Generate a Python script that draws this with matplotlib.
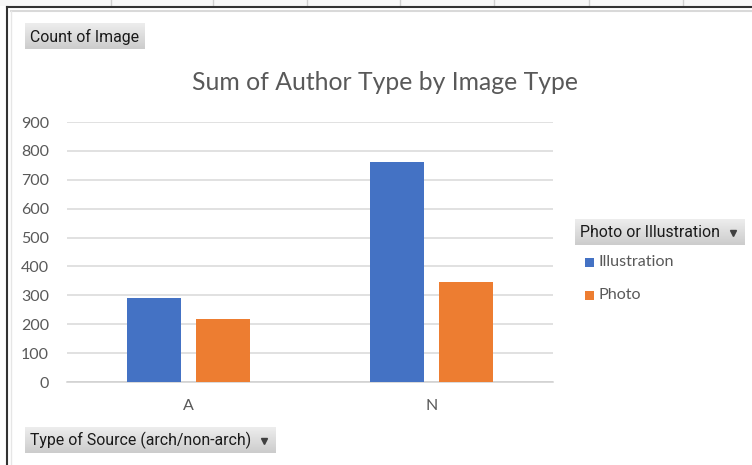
import matplotlib
matplotlib.use("Agg")
import matplotlib.pyplot as plt
import numpy as np
from matplotlib.lines import Line2D
from matplotlib.patches import Rectangle

categories = ["A", "N"]
series_names = ["Illustration", "Photo"]
illustration = [290, 761]
photo = [218, 345]
colors = ["#4472C4", "#ED7D31"]
y_ticks = [0, 100, 200, 300, 400, 500, 600, 700, 800, 900]

W, H = 752, 465
txt = "#595959"
main_font = ["Lato", "DejaVu Sans"]
btn_font = ["Roboto", "DejaVu Sans"]

fig = plt.figure(figsize=(W / 100, H / 100), dpi=100)
fig.patch.set_facecolor("white")


def fx(px):
    return px / W


def fy(py):
    return 1 - py / H


# spreadsheet strip above the chart
fig.patches.append(Rectangle((0, fy(6)), 1, 1 - fy(6), transform=fig.transFigure,
                             facecolor="#f8f8f8", edgecolor="none"))
for sx in [111, 213, 307, 400, 494, 589, 683]:
    fig.lines.append(Line2D([fx(sx), fx(sx)], [fy(0), fy(6)], transform=fig.transFigure,
                            color="#d0d0d0", lw=1))
fig.lines.append(Line2D([fx(7), 1], [fy(7), fy(7)], transform=fig.transFigure, color="#333333", lw=1.5))
fig.lines.append(Line2D([fx(7), fx(7)], [fy(7), 0], transform=fig.transFigure, color="#333333", lw=1.5))
fig.lines.append(Line2D([fx(11), 1], [fy(11), fy(11)], transform=fig.transFigure, color="#d9d9d9", lw=1.5))
fig.lines.append(Line2D([fx(11), fx(11)], [fy(11), 0], transform=fig.transFigure, color="#e6e6e6", lw=1))

# main plot area
ax = fig.add_axes([fx(67), fy(382), fx(553) - fx(67), fy(122) - fy(382)])
x = np.arange(len(categories))
bw = 0.226
off = 0.142
ax.bar(x - off, illustration, bw, color=colors[0], zorder=3)
ax.bar(x + off, photo, bw, color=colors[1], zorder=3)
ax.set_xlim(-0.5, len(categories) - 0.5)
ax.set_ylim(0, 900)
ax.set_yticks(y_ticks)
ax.set_xticks(x)
ax.set_xticklabels(categories)
ax.grid(axis="y", color="#d9d9d9", lw=1.1, zorder=0)
for s in ["top", "right", "left"]:
    ax.spines[s].set_visible(False)
ax.spines["bottom"].set_color("#d0d0d0")
ax.spines["bottom"].set_linewidth(1.1)
ax.tick_params(axis="both", length=0, colors=txt, labelsize=11.5)
ax.tick_params(axis="y", pad=13)
ax.tick_params(axis="x", pad=12)
for lab in ax.get_xticklabels() + ax.get_yticklabels():
    lab.set_family(main_font)

fig.text(fx(385), fy(83), "Sum of Author Type by Image Type", ha="center", va="center",
         fontsize=17.8, color=txt, family=main_font)

# legend
for i, name in enumerate(series_names):
    ly = [262, 295][i]
    fig.patches.append(Rectangle((fx(585), fy(ly + 4.5)), fx(9), 9 / H, transform=fig.transFigure,
                                 facecolor=colors[i], edgecolor="none"))
    fig.text(fx(598), fy(ly), name, ha="left", va="center", fontsize=11.6, color=txt, family=main_font)


# pivot field buttons
def button(x0, y0, x1, y1, label, arrow=False):
    bax = fig.add_axes([fx(x0), fy(y1), fx(x1) - fx(x0), fy(y0) - fy(y1)])
    grad = np.linspace(0.93, 0.80, 40).reshape(-1, 1)
    bax.imshow(np.dstack([grad, grad, grad]), aspect="auto", extent=[0, 1, 0, 1], origin="upper")
    bax.set_xlim(0, 1)
    bax.set_ylim(0, 1)
    bax.axis("off")
    bax.text(5 / (x1 - x0), 0.47, label, ha="left", va="center", fontsize=11.4, color="#1a1a1a",
             family=btn_font)
    if arrow:
        bax.plot([1 - 12 / (x1 - x0)], [0.45], marker="v", ms=4, color="#404040")


button(25, 23, 145, 49, "Count of Image")
button(575, 219, 745, 245, "Photo or Illustration", arrow=True)
button(25, 427, 276, 453, "Type of Source (arch/non-arch)", arrow=True)

fig.savefig("out.png", dpi=100)
